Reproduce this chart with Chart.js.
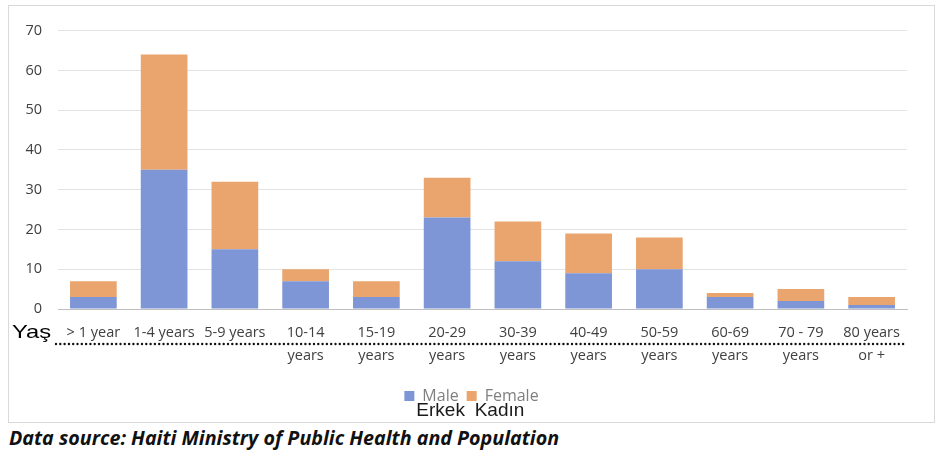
<!DOCTYPE html>
<html><head><meta charset="utf-8">
<script src="https://cdn.jsdelivr.net/npm/chart.js@4.4.0/dist/chart.umd.min.js"></script>
<style>
html,body{margin:0;padding:0;background:#fff;width:945px;height:457px;overflow:hidden;}
#box{position:absolute;left:8px;top:5px;width:927px;height:418px;border:1px solid #d9d9d9;box-sizing:border-box;}
#src{position:absolute;left:9px;top:424px;font-family:"Open Sans",sans-serif;font-weight:bold;font-style:italic;font-size:19.7px;color:#111;}
</style></head>
<body>
<div id="box"><canvas id="c"></canvas></div>
<div id="src">Data source: Haiti Ministry of Public Health and Population</div>
<script>
const categories = [['> 1 year'],['1-4 years'],['5-9 years'],['10-14','years'],['15-19','years'],['20-29','years'],['30-39','years'],['40-49','years'],['50-59','years'],['60-69','years'],['70 - 79','years'],['80 years','or +']];
const maleValues   = [3, 35, 15, 7, 3, 23, 12, 9, 10, 3, 2, 1];
const femaleValues = [4, 29, 17, 3, 4, 10, 10, 10, 8, 1, 3, 2];
const seriesNames = ['Male', 'Female'];
const seriesTranslations = ['Erkek', 'Kadın'];
const axisLabel = 'Yaş';
const yTicks = [0,10,20,30,40,50,60,70];

const extras = {
  id:'extras',
  afterDraw(chart){
    const ctx = chart.ctx;
    const base = chart.scales.y.getPixelForValue(0);
    ctx.save();
    // Yaş label (horizontally widened like the reference)
    ctx.save();
    ctx.translate(3, base + 29);
    ctx.scale(1.25, 1);
    ctx.font = '19px "Liberation Sans", Arial, sans-serif';
    ctx.fillStyle = '#000';
    ctx.textBaseline = 'alphabetic';
    ctx.textAlign = 'left';
    ctx.fillText(axisLabel, 0, 0);
    ctx.restore();
    // dotted line
    ctx.fillStyle = '#111';
    const yLine = base + 35;
    for (let px = 47; px < 896; px += 4.3) {
      ctx.beginPath(); ctx.arc(px, yLine, 1.2, 0, Math.PI*2); ctx.fill();
    }
    // translations under legend
    const lg = chart.legend;
    if (lg && lg.legendHitBoxes) {
      ctx.font = '19px "Liberation Sans", Arial, sans-serif';
      ctx.fillStyle = '#1a1a1a';
      ctx.textAlign = 'left';
      ctx.textBaseline = 'alphabetic';
      const offs = [12, 8];
      lg.legendHitBoxes.forEach((hb, i) => {
        ctx.fillText(seriesTranslations[i], hb.left + offs[i], hb.top + hb.height/2 + 20);
      });
    }
    ctx.restore();
  }
};

new Chart(document.getElementById('c'), {
  type:'bar',
  data:{
    labels: categories,
    datasets:[
      {label:seriesNames[0], data:maleValues, backgroundColor:'#7f96d6', categoryPercentage:1, barPercentage:0.66},
      {label:seriesNames[1], data:femaleValues, backgroundColor:'#e9a56d', categoryPercentage:1, barPercentage:0.66}
    ]
  },
  options:{
    responsive:true, maintainAspectRatio:false, animation:false,
    layout:{padding:{top:22, right:0, bottom:8, left:0}},
    plugins:{
      legend:{position:'bottom', labels:{boxWidth:10, boxHeight:10, padding:8, color:'#7f7f7f', font:{family:'"Open Sans", sans-serif', size:16}}},
      tooltip:{enabled:false}
    },
    scales:{
      x:{stacked:true,
        grid:{display:false, drawTicks:false},
        border:{color:'#bfbfbf', width:1},
        ticks:{color:'#404040', padding:12, maxRotation:0, autoSkip:false, font:{family:'"Open Sans", sans-serif', size:14.5, lineHeight:1.6}},
        afterFit(s){ s.height = 71; }
      },
      y:{stacked:true, min:0, max:70,
        afterBuildTicks(s){ s.ticks = yTicks.map(v=>({value:v})); },
        grid:{color:'#e3e3e3', drawTicks:false},
        border:{display:false},
        ticks:{color:'#404040', padding:16, font:{family:'"Open Sans", sans-serif', size:14.5}},
        afterFit(s){ s.width = 49; }
      },
      yRight:{position:'right', min:0, max:70,
        grid:{display:false, drawTicks:false},
        border:{display:false},
        ticks:{display:false},
        afterFit(s){ s.width = 27; }
      }
    }
  },
  plugins:[extras]
});
</script>
</body></html>
